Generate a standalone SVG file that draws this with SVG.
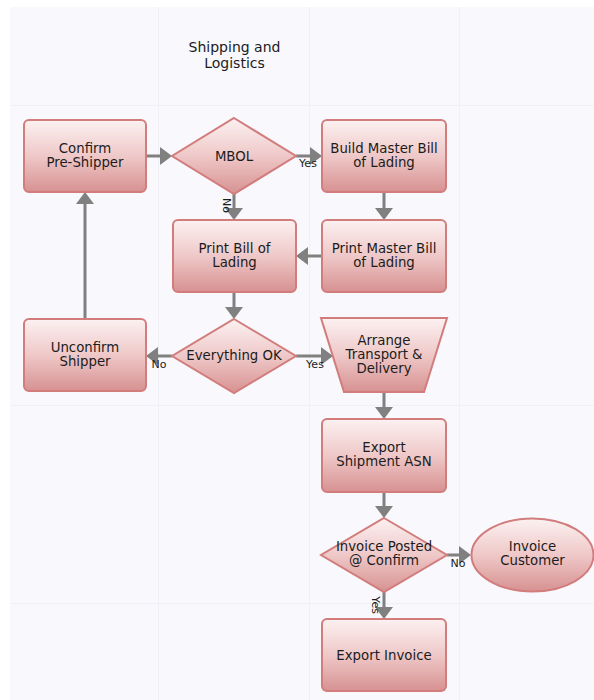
<svg xmlns="http://www.w3.org/2000/svg" width="594" height="700" viewBox="0 0 594 700">
<defs>
<linearGradient id="g" x1="0" y1="0" x2="0" y2="1">
<stop offset="0" stop-color="#fcf1f1"/>
<stop offset="0.5" stop-color="#efc8c8"/>
<stop offset="1" stop-color="#d79191"/>
</linearGradient>
<marker id="arr" markerUnits="userSpaceOnUse" markerWidth="14" markerHeight="20" viewBox="0 -10 14 20" refX="0" refY="0" orient="auto">
<path d="M0,-9 L12,0 L0,9 Z" fill="#808080"/>
</marker>
<style>
.n{fill:url(#g);stroke:#d27c7c;stroke-width:2}
.t{font-family:"DejaVu Sans",Verdana,sans-serif;font-size:13.3px;fill:#1c1c1c;text-anchor:middle}
.title{font-family:"DejaVu Sans",Verdana,sans-serif;font-size:14px;fill:#1c1c1c;text-anchor:middle}
.l{font-family:"DejaVu Sans",Verdana,sans-serif;font-size:11px;fill:#1c1c1c;text-anchor:middle}
.c{fill:none;stroke:#808080;stroke-width:3;marker-end:url(#arr)}
.grid{stroke:#f0f0f6;stroke-width:1}
</style>
</defs>
<rect x="0" y="0" width="594" height="700" fill="#ffffff"/>
<rect x="10" y="7" width="584" height="693" fill="#f8f8fd"/>
<g id="grid">
<line class="grid" x1="158.5" y1="7" x2="158.5" y2="700"/>
<line class="grid" x1="309.5" y1="7" x2="309.5" y2="700"/>
<line class="grid" x1="459.5" y1="7" x2="459.5" y2="700"/>
<line class="grid" x1="10" y1="105.5" x2="594" y2="105.5"/>
<line class="grid" x1="10" y1="405.5" x2="594" y2="405.5"/>
<line class="grid" x1="10" y1="603.5" x2="594" y2="603.5"/>
</g>
<g id="title">
<text class="title" x="234.5" y="51.5">Shipping and</text>
<text class="title" x="234.5" y="67.5">Logistics</text>
</g>
<g id="connectors">
<path class="c" d="M146,156 H160"/>
<path class="c" d="M296,156 H310"/>
<path class="c" d="M234,193 V208"/>
<path class="c" d="M384,192 V208"/>
<path class="c" d="M322,256 H308"/>
<path class="c" d="M234,292 V307"/>
<path class="c" d="M172,356 H158"/>
<path class="c" d="M296,356 H321"/>
<path class="c" d="M85,319 V204"/>
<path class="c" d="M384,392 V407"/>
<path class="c" d="M384,492 V506"/>
<path class="c" d="M447,555 H459"/>
<path class="c" d="M384,592 V607"/>
<text class="l" x="308" y="167">Yes</text>
<text class="l" transform="translate(226.5,205.5) rotate(90)" y="4">No</text>
<text class="l" x="159" y="368">No</text>
<text class="l" x="315" y="368">Yes</text>
<text class="l" x="458" y="567">No</text>
<text class="l" transform="translate(376,605) rotate(90)" y="4">Yes</text>
</g>
<g id="confirm-pre-shipper">
<rect class="n" x="24" y="120" width="122" height="72" rx="5"/>
<text class="t" x="85" y="152.5">Confirm</text>
<text class="t" x="85" y="166.5">Pre-Shipper</text>
</g>
<g id="mbol">
<polygon class="n" points="234,118 296,156 234,194 172,156"/>
<text class="t" x="234" y="160.5">MBOL</text>
</g>
<g id="build-master-bill">
<rect class="n" x="322" y="120" width="124" height="72" rx="5"/>
<text class="t" x="384" y="152.5">Build Master Bill</text>
<text class="t" x="384" y="166.5">of Lading</text>
</g>
<g id="print-bill">
<rect class="n" x="173" y="220" width="123" height="72" rx="5"/>
<text class="t" x="234.5" y="252.5">Print Bill of</text>
<text class="t" x="234.5" y="266.5">Lading</text>
</g>
<g id="print-master-bill">
<rect class="n" x="322" y="220" width="124" height="72" rx="5"/>
<text class="t" x="384" y="252.5">Print Master Bill</text>
<text class="t" x="384" y="266.5">of Lading</text>
</g>
<g id="unconfirm-shipper">
<rect class="n" x="24" y="319" width="122" height="72" rx="5"/>
<text class="t" x="85" y="351.5">Unconfirm</text>
<text class="t" x="85" y="365.5">Shipper</text>
</g>
<g id="everything-ok">
<polygon class="n" points="234,319 296,356 234,393 172,356"/>
<text class="t" x="234" y="360">Everything OK</text>
</g>
<g id="arrange-transport">
<polygon class="n" points="321,318 447,318 424,392 344,392"/>
<text class="t" x="384" y="344.5">Arrange</text>
<text class="t" x="384" y="358.5">Transport &amp;</text>
<text class="t" x="384" y="372.5">Delivery</text>
</g>
<g id="export-shipment-asn">
<rect class="n" x="322" y="419" width="124" height="73" rx="5"/>
<text class="t" x="384" y="452">Export</text>
<text class="t" x="384" y="466">Shipment ASN</text>
</g>
<g id="invoice-posted">
<polygon class="n" points="384,518 447,555 384,592 321,555"/>
<text class="t" x="384" y="551">Invoice Posted</text>
<text class="t" x="384" y="565">@ Confirm</text>
</g>
<g id="invoice-customer">
<ellipse class="n" cx="532.5" cy="555" rx="61" ry="36.5"/>
<text class="t" x="532.5" y="551">Invoice</text>
<text class="t" x="532.5" y="565">Customer</text>
</g>
<g id="export-invoice">
<rect class="n" x="322" y="619" width="124" height="72" rx="5"/>
<text class="t" x="384" y="659.5">Export Invoice</text>
</g>
</svg>
